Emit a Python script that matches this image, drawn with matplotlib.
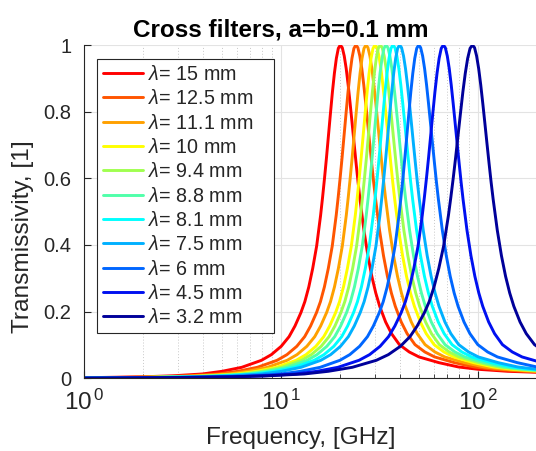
import numpy as np
import matplotlib
matplotlib.use("Agg")
import matplotlib.pyplot as plt
from matplotlib.ticker import FixedLocator, FixedFormatter, NullFormatter

plt.rcParams['font.family'] = ['Liberation Sans', 'DejaVu Sans']
plt.rcParams['mathtext.fontset'] = 'custom'
plt.rcParams['mathtext.rm'] = 'Liberation Sans'
plt.rcParams['mathtext.it'] = 'Liberation Sans:italic'
plt.rcParams['mathtext.bf'] = 'Liberation Sans:bold'

# ---- data ----
wavelength_mm = [15, 12.5, 11.1, 10, 9.4, 8.8, 8.1, 7.5, 6, 4.5, 3.2]
peak_GHz = [20.0, 24.0, 27.0, 30.0, 31.9, 34.1, 37.0, 40.0, 50.0, 66.7, 93.75]
# shared resonance profile: distance from the peak in decades and transmissivity
offset_dec = [0.0, 0.01, 0.02, 0.03, 0.04, 0.05, 0.06, 0.07, 0.08, 0.09, 0.10,
              0.12, 0.14, 0.16, 0.18, 0.20, 0.23, 0.26, 0.30, 0.35, 0.40,
              0.50, 0.60, 0.70, 0.85, 1.00, 1.30, 1.60, 2.00, 2.40]
T_below = [1.0, 0.990, 0.960, 0.915, 0.859, 0.795, 0.729, 0.663, 0.601, 0.543, 0.489,
           0.397, 0.330, 0.274, 0.230, 0.197, 0.157, 0.125, 0.096, 0.071, 0.054,
           0.033, 0.021, 0.013, 0.0075, 0.0045, 0.0017, 0.0006, 0.00015, 0.00004]
T_above = [1.0, 0.992, 0.967, 0.929, 0.880, 0.824, 0.765, 0.705, 0.646, 0.589, 0.537,
           0.444, 0.368, 0.306, 0.256, 0.216, 0.169, 0.134, 0.101, 0.079, 0.064,
           0.047, 0.034, 0.027, 0.021, 0.018, 0.013, 0.010, 0.008, 0.006]
# per-curve width scale of the low / high frequency side
width_below = [1.0, 1.0, 1.0, 1.0, 1.0, 1.0, 1.0, 1.0, 1.0, 1.07, 1.22]
width_above = [1.0, 1.0, 1.0, 1.0, 1.0, 1.0, 1.0, 1.0, 1.0, 1.0, 1.05]
colors = ['#ff0000', '#ff5500', '#ffa000', '#ffff00', '#a0ff50', '#50ffaa',
          '#00ffff', '#00b0ff', '#0066ff', '#0010f0', '#00009a']
labels = [r'$\lambda$= %g mm' % w for w in wavelength_mm]

xticks = [1, 10, 100]
xticklabels = [r'$10^{\,0}$', r'$10^{\,1}$', r'$10^{\,2}$']
yticks = [0, 0.2, 0.4, 0.6, 0.8, 1.0]
yticklabels = ['0', '0.2', '0.4', '0.6', '0.8', '1']

# ---- figure ----
W, H = 536, 451
fig = plt.figure(figsize=(W / 100, H / 100), dpi=100)
ax_w, ax_h = 453.3, 333.3
ax = fig.add_axes([84 / W, (H - 378.3) / H, ax_w / W, ax_h / H])

d = np.array(offset_dec)
for i in range(len(wavelength_mm)):
    f0 = peak_GHz[i]
    f_lo = f0 * 10 ** (-d[::-1] * width_below[i])
    f_hi = f0 * 10 ** (d[1:] * width_above[i])
    f = np.concatenate([f_lo, f_hi])
    T = np.concatenate([np.array(T_below)[::-1], np.array(T_above)[1:]])
    ax.plot(f, T, color=colors[i], lw=2.1, label=labels[i],
            solid_joinstyle='round', solid_capstyle='round')

ax.set_xscale('log')
ax.set_xlim(1, 200)
ax.set_ylim(0, 1)

dark = '#262626'
ax.xaxis.set_major_locator(FixedLocator(xticks))
ax.xaxis.set_major_formatter(FixedFormatter(xticklabels))
minor = [m * 10 ** e for e in range(0, 3) for m in range(2, 10) if m * 10 ** e < 200]
ax.xaxis.set_minor_locator(FixedLocator(minor))
ax.xaxis.set_minor_formatter(NullFormatter())
ax.yaxis.set_major_locator(FixedLocator(yticks))
ax.yaxis.set_major_formatter(FixedFormatter(yticklabels))

ax.tick_params(axis='both', which='both', direction='in', colors=dark,
               top=False, right=False)
ax.tick_params(axis='y', which='major', length=5, width=0.8, labelsize=14.5, pad=9)
ax.tick_params(axis='x', which='major', length=5, width=0.8, labelsize=17.5, pad=8)
ax.tick_params(axis='x', which='minor', length=3, width=0.6)

ax.grid(True, which='major', color='#e3e3e3', lw=0.8)
ax.grid(True, which='minor', axis='x', color='#c8c8c8', lw=0.7, linestyle=(0, (1, 2)))
ax.set_axisbelow(True)
for s in ['top', 'right']:
    ax.spines[s].set_visible(False)
for s in ['left', 'bottom']:
    ax.spines[s].set_color(dark)
    ax.spines[s].set_linewidth(0.8)

fig.text(281 / W, 1 - 36 / H, 'Cross filters, a=b=0.1 mm', ha='center', va='baseline',
         fontsize=17.5, fontweight='bold', color='black')
fig.text(301 / W, 1 - 444 / H, 'Frequency, [GHz]', ha='center', va='baseline',
         fontsize=17.6, color=dark)
fig.text(23 / W, 1 - 237 / H, 'Transmissivity, [1]', ha='center', va='center',
         rotation=90, fontsize=17.6, color=dark)

# legend box: x 97..274 px, top at 59 px
lx0, lx1, ltop = 97, 274, 59
leg = ax.legend(loc='upper left', mode='expand',
                bbox_to_anchor=((lx0 - 84) / ax_w, (378.3 - ltop) / ax_h - 0.5,
                                (lx1 - lx0) / ax_w, 0.5),
                borderaxespad=0, fontsize=14.2, handlelength=2.05, handletextpad=0.22,
                labelspacing=0.27, borderpad=0.3, fancybox=False, framealpha=1,
                edgecolor=dark)
leg.get_frame().set_linewidth(0.8)
for t in leg.get_texts():
    t.set_color(dark)

fig.savefig('out.png', dpi=100)
